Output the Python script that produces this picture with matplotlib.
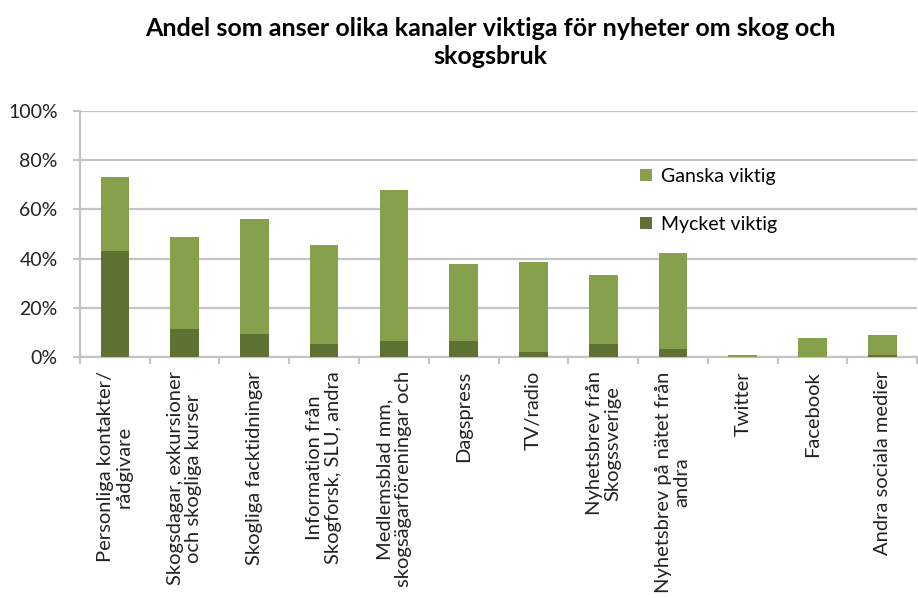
import matplotlib.pyplot as plt
import numpy as np

plt.rcParams['font.family'] = ['Lato', 'DejaVu Sans']

# --- Data ---
kanaler = [
    'Personliga kontakter/\nrådgivare',
    'Skogsdagar, exkursioner\noch skogliga kurser',
    'Skogliga facktidningar',
    'Information från\nSkogforsk, SLU, andra',
    'Medlemsblad mm,\nskogsägarföreningar och',
    'Dagspress',
    'TV/radio',
    'Nyhetsbrev från\nSkogssverige',
    'Nyhetsbrev på nätet från\nandra',
    'Twitter',
    'Facebook',
    'Andra sociala medier',
]
mycket = [43.2, 11.4, 9.3, 5.4, 6.7, 6.6, 2.0, 5.4, 3.4, 0.0, 0.0, 0.8]
totalt = [73.1, 49.0, 56.2, 45.7, 67.9, 37.9, 38.6, 33.3, 42.5, 0.8, 7.8, 9.2]
ganska = [t - m for t, m in zip(totalt, mycket)]

ljus = '#87A04B'
mork = '#5E7233'
grid_col = '#C4C4C4'

fig = plt.figure(figsize=(9.18, 5.98), dpi=100)
ax = fig.add_axes([0.0871, 0.4025, 0.912, 0.412])

x = np.arange(len(kanaler))
ax.bar(x, mycket, width=0.41, color=mork, label='Mycket viktig', zorder=3)
ax.bar(x, ganska, width=0.41, bottom=mycket, color=ljus, label='Ganska viktig', zorder=3)

ax.set_xlim(-0.5, len(kanaler) - 0.5)
ax.set_ylim(0, 100)
ax.set_yticks(np.arange(0, 101, 20))
ax.set_yticklabels([f'{v}%' for v in range(0, 101, 20)], fontsize=14, color='#222222')
ax.yaxis.grid(True, color=grid_col, linewidth=1.6, zorder=0)
ax.set_axisbelow(True)

ax.set_xticks(x)
ax.set_xticklabels(kanaler, rotation=90, fontsize=14.5, color='#222222',
                   ha='center', va='top', multialignment='center', linespacing=1.1)
ax.set_xticks(np.arange(-0.5, len(kanaler)), minor=True)
ax.tick_params(axis='x', which='major', length=0, pad=10)
ax.tick_params(axis='x', which='minor', length=5, color=grid_col, width=1.5)
ax.tick_params(axis='y', length=5, color=grid_col, width=1.5, pad=11)

for s in ['top', 'right']:
    ax.spines[s].set_visible(False)
for s in ['left', 'bottom']:
    ax.spines[s].set_color(grid_col)
    ax.spines[s].set_linewidth(1.6)

fig.suptitle('Andel som anser olika kanaler viktiga för nyheter om skog och\nskogsbruk',
             x=0.534, y=0.972, fontsize=18, fontweight='bold', linespacing=1.3)

handles, labels = ax.get_legend_handles_labels()
ax.legend(handles[::-1], labels[::-1], loc='upper left', bbox_to_anchor=(0.648, 0.84),
          frameon=False, fontsize=14, handlelength=0.6, handleheight=0.6,
          labelspacing=1.6, handletextpad=0.5)

fig.savefig('out.png', dpi=100)
